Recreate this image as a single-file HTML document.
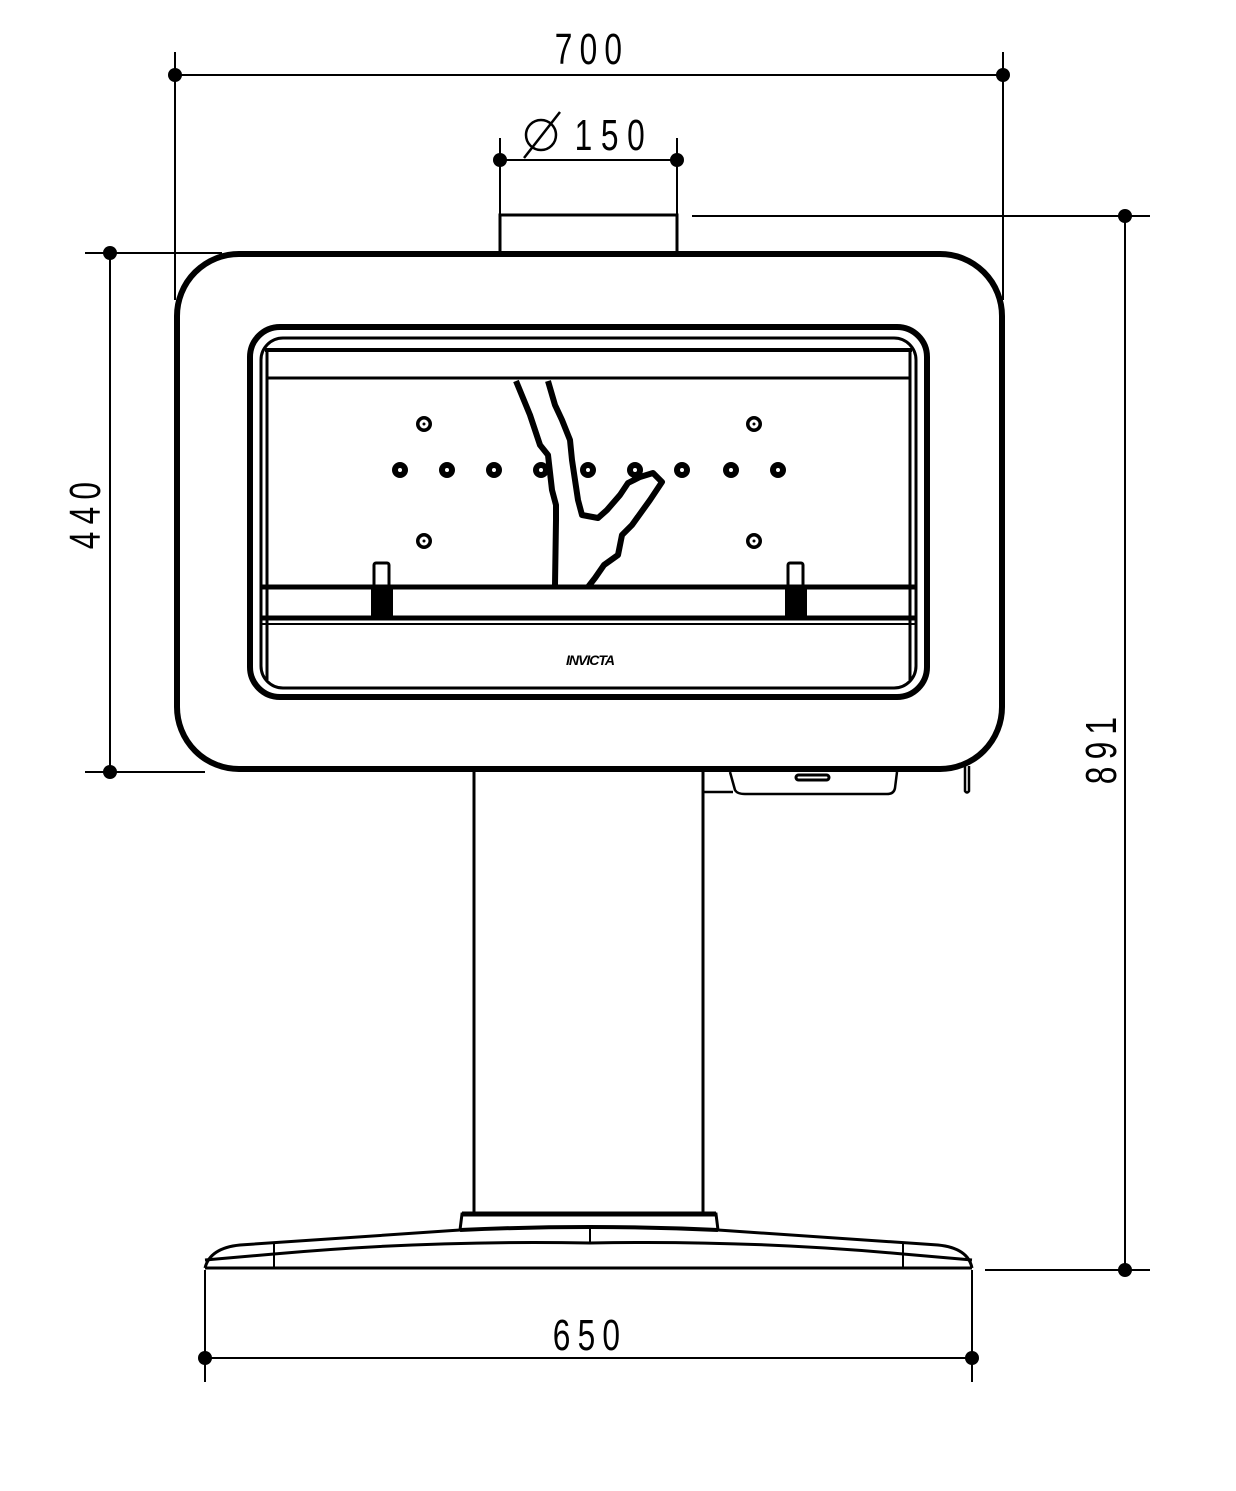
<!DOCTYPE html>
<html><head><meta charset="utf-8"><style>html,body{margin:0;padding:0;background:#fff}svg{display:block}</style></head>
<body>
<svg width="1236" height="1491" viewBox="0 0 1236 1491" xmlns="http://www.w3.org/2000/svg" fill="none" stroke="#000">
<g stroke-width="2">
<line x1="175" y1="75" x2="1003" y2="75"/>
<line x1="175" y1="52" x2="175" y2="300"/>
<line x1="1003" y1="52" x2="1003" y2="300"/>
<line x1="500" y1="160" x2="677" y2="160"/>
<line x1="500" y1="138" x2="500" y2="216"/>
<line x1="677" y1="138" x2="677" y2="216"/>
<line x1="692" y1="216" x2="1150" y2="216"/>
<line x1="1125" y1="216" x2="1125" y2="1270"/>
<line x1="985" y1="1270" x2="1150" y2="1270"/>
<line x1="85" y1="253" x2="222" y2="253"/>
<line x1="85" y1="772" x2="205" y2="772"/>
<line x1="110" y1="253" x2="110" y2="772"/>
<line x1="205" y1="1358" x2="972" y2="1358"/>
<line x1="205" y1="1270" x2="205" y2="1382"/>
<line x1="972" y1="1270" x2="972" y2="1382"/>
</g>
<g fill="#000" stroke="none">
<circle cx="175" cy="75" r="7"/><circle cx="1003" cy="75" r="7"/>
<circle cx="500" cy="160" r="7"/><circle cx="677" cy="160" r="7"/>
<circle cx="1125" cy="216" r="7"/><circle cx="1125" cy="1270" r="7"/>
<circle cx="110" cy="253" r="7"/><circle cx="110" cy="772" r="7"/>
<circle cx="205" cy="1358" r="7"/><circle cx="972" cy="1358" r="7"/>
</g>
<g fill="#000" stroke="none" font-family="Liberation Sans, sans-serif" font-size="44">
<text x="592" y="64" text-anchor="middle" transform="translate(592 0) scale(0.72 1) translate(-592 0)" letter-spacing="10">700</text>
<text x="614" y="150" text-anchor="middle" transform="translate(614 0) scale(0.72 1) translate(-614 0)" letter-spacing="12">150</text>
<text x="590" y="1350" text-anchor="middle" transform="translate(590 0) scale(0.72 1) translate(-590 0)" letter-spacing="10">650</text>
<text transform="translate(100 512) rotate(-90) scale(0.72 1)" text-anchor="middle" letter-spacing="10">440</text>
<text transform="translate(1116 747) rotate(-90) scale(0.72 1)" text-anchor="middle" letter-spacing="10">891</text>
</g>
<g stroke-width="2.5"><circle cx="541" cy="135" r="15"/><line x1="524" y1="158" x2="560" y2="112"/></g>
<rect x="500" y="215" width="177" height="38" stroke-width="3"/>
<rect x="177" y="254" width="825" height="515" rx="62" stroke-width="6"/>
<rect x="250" y="327" width="677" height="370" rx="30" stroke-width="6"/>
<rect x="261" y="338" width="655" height="350" rx="22" stroke-width="3"/>
<line x1="265" y1="350" x2="912" y2="350" stroke-width="4"/>
<line x1="267" y1="378" x2="910" y2="378" stroke-width="3"/>
<line x1="267" y1="350" x2="267" y2="680" stroke-width="3"/>
<line x1="910" y1="350" x2="910" y2="680" stroke-width="3"/>
<line x1="262" y1="587" x2="915" y2="587" stroke-width="5"/>
<line x1="262" y1="618" x2="915" y2="618" stroke-width="5"/>
<line x1="262" y1="624" x2="915" y2="624" stroke-width="2"/>
<g fill="#000" stroke="none">
<rect x="371" y="586" width="22" height="33"/><rect x="785" y="586" width="22" height="33"/>
</g>
<rect x="374" y="563" width="15" height="25" rx="2" stroke-width="3"/>
<rect x="788" y="563" width="15" height="25" rx="2" stroke-width="3"/>
<g fill="#000" stroke="none">
<circle cx="400" cy="470" r="8"/><circle cx="447" cy="470" r="8"/><circle cx="494" cy="470" r="8"/><circle cx="541" cy="470" r="8"/><circle cx="588" cy="470" r="8"/><circle cx="635" cy="470" r="8"/><circle cx="682" cy="470" r="8"/><circle cx="731" cy="470" r="8"/><circle cx="778" cy="470" r="8"/>
<circle cx="424" cy="424" r="8"/><circle cx="754" cy="424" r="8"/><circle cx="424" cy="541" r="8"/><circle cx="754" cy="541" r="8"/>
</g>
<g fill="#fff" stroke="none">
<circle cx="400" cy="470" r="2"/><circle cx="447" cy="470" r="2"/><circle cx="494" cy="470" r="2"/><circle cx="541" cy="470" r="2"/><circle cx="588" cy="470" r="2"/><circle cx="635" cy="470" r="2"/><circle cx="682" cy="470" r="2"/><circle cx="731" cy="470" r="2"/><circle cx="778" cy="470" r="2"/>
<circle cx="424" cy="424" r="4.5"/><circle cx="754" cy="424" r="4.5"/><circle cx="424" cy="541" r="4.5"/><circle cx="754" cy="541" r="4.5"/>
</g>
<g fill="#000" stroke="none"><circle cx="424" cy="424" r="1.5"/><circle cx="754" cy="424" r="1.5"/><circle cx="424" cy="541" r="1.5"/><circle cx="754" cy="541" r="1.5"/></g>
<path d="M516 381 L530 415 L540 445 L548 455 L552 490 L556 505 L556 520 L555 585 M548 381 L555 405 L562 420 L570 440 L572 460 L578 500 L582 515 L598 518 L607 510 L620 495 L628 483 L640 477 L653 473 L662 482 L650 500 L632 525 L622 535 L618 555 L604 565 L595 578 L588 587" stroke-width="6" stroke-linejoin="round"/>
<text x="590" y="665" text-anchor="middle" font-family="Liberation Sans, sans-serif" font-weight="bold" font-style="italic" font-size="14" fill="#000" stroke="none" letter-spacing="-1">INVICTA</text>
<line x1="474" y1="772" x2="474" y2="1212" stroke-width="3"/>
<line x1="703" y1="772" x2="703" y2="1212" stroke-width="3"/>
<path d="M703 792 L733 792 M730 772 L735 790 Q737 794 745 794 L887 794 Q894 794 895 788 L897 772" stroke-width="2.5"/>
<rect x="796" y="775" width="33" height="5" rx="2.5" stroke-width="3"/>
<path d="M965 766 L965 791 Q967 794 969 791 L969 766" stroke-width="2.5"/>
<path d="M460 1230 L462 1214 L716 1214 L718 1230" stroke-width="3"/>
<line x1="462" y1="1214" x2="716" y2="1214" stroke-width="5"/>
<path d="M460 1230 Q590 1224 718 1230" stroke-width="4"/>
<path d="M460 1230 L240 1245 Q210 1248 205 1268 M718 1230 L938 1245 Q968 1248 972 1268" stroke-width="3"/>
<path d="M205 1260 L274 1254 Q430 1240 590 1243 Q750 1240 903 1254 L972 1260" stroke-width="3"/>
<line x1="205" y1="1268" x2="972" y2="1268" stroke-width="3"/>
<line x1="274" y1="1243" x2="274" y2="1268" stroke-width="2"/>
<line x1="903" y1="1243" x2="903" y2="1268" stroke-width="2"/>
<line x1="590" y1="1228" x2="590" y2="1243" stroke-width="2"/>
</svg>
</body></html>
